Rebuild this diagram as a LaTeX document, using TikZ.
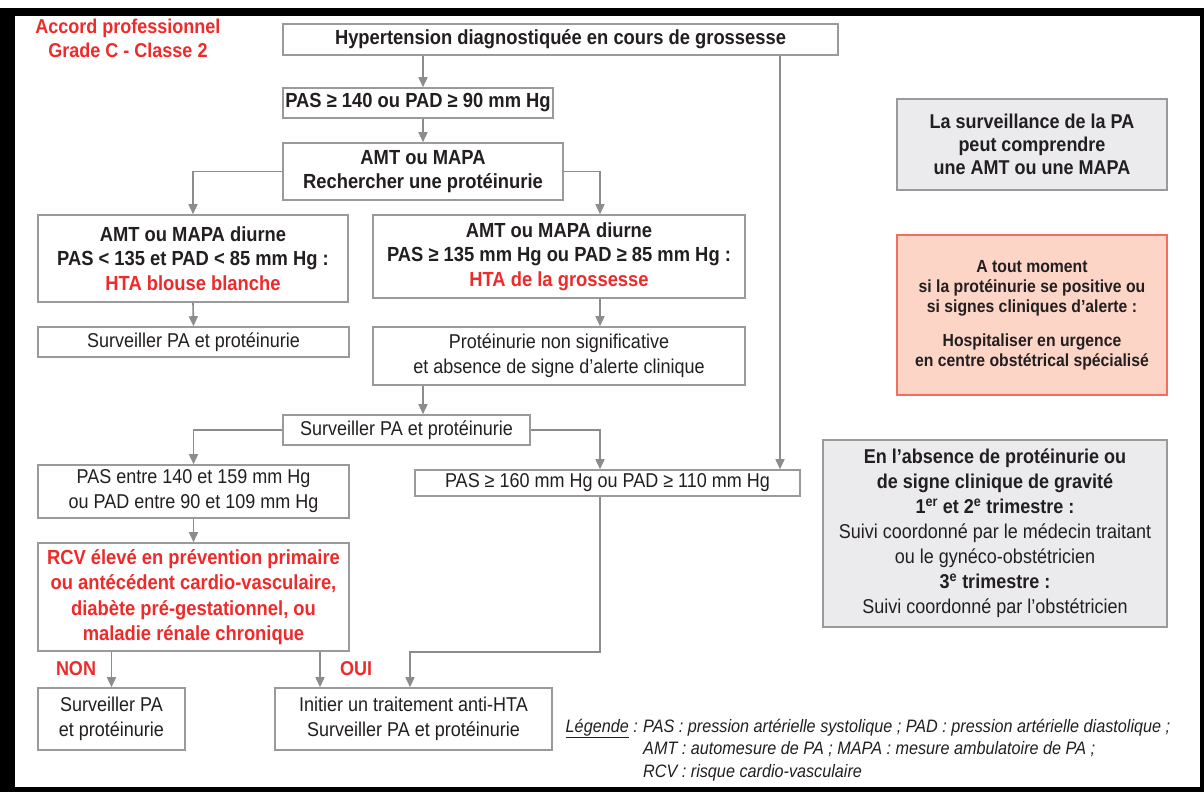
\documentclass[tikz,border=0pt]{standalone}
\usepackage{fontspec}
\setmainfont{Liberation Sans}[FakeStretch=0.9]
\usetikzlibrary{arrows.meta,calc}
\definecolor{txt}{HTML}{231F20}
\definecolor{redt}{HTML}{EE2A2A}
\definecolor{bord}{HTML}{9A9A9A}
\definecolor{lgray}{HTML}{8C8C8C}
\definecolor{grayfill}{HTML}{EBEBEE}
\definecolor{pinkfill}{HTML}{FCD5C6}
\definecolor{pinkbord}{HTML}{EF6F60}
\begin{document}
\begin{tikzpicture}[x=1pt,y=-1pt,
  box/.style={draw=bord,line width=1.6pt,fill=white,inner sep=0pt,align=center,text=txt,font=\fontsize{20}{25}\selectfont},
  bbox/.style={box,font=\fontsize{20.4}{24.5}\selectfont\bfseries},
  gbox/.style={box,fill=grayfill,draw=bord},
  pbox/.style={box,fill=pinkfill,draw=pinkbord},
  arr/.style={draw=lgray,line width=1.6pt,-{Triangle[length=10pt,width=9pt]}},
  redlab/.style={text=redt,font=\fontsize{20}{24}\selectfont\bfseries,inner sep=0pt},
  leg/.style={text=txt,font=\fontsize{18}{22.5}\selectfont\itshape,inner sep=0pt,align=left}
]
\useasboundingbox (0,0) rectangle (1204,792);
\fill[white] (0,0) rectangle (1204,792);
\fill[black] (0,8) rectangle (1204,792);
\fill[white] (15,16) rectangle (1200,787);

% column coordinates
\coordinate (xb) at (423,0);
\coordinate (xc) at (600,0);
\coordinate (xd) at (780,0);
\coordinate (xf) at (320,0);
\coordinate (xg) at (410,0);
\coordinate (kk) at (0,652);

% title
\node[redlab,align=center] (title) at (128,38) {Accord professionnel\\Grade C - Classe 2};

% main flow
\node[bbox,minimum width=555pt,minimum height=31pt] (top) at (560.5,39.5) {Hypertension diagnostiquée en cours de grossesse};
\node[bbox,minimum width=270pt,minimum height=30pt] (b2) at (418,103) {PAS ≥ 140 ou PAD ≥ 90 mm Hg};
\node[bbox,minimum width=280pt,minimum height=57pt] (b3) at (423,171.5) {AMT ou MAPA\\Rechercher une protéinurie};
\node[bbox,minimum width=310pt,minimum height=87pt] (b4) at (193,258.5) {AMT ou MAPA diurne\\PAS < 135 et PAD < 85 mm Hg :\\\textcolor{redt}{HTA blouse blanche}};
\node[bbox,minimum width=372pt,minimum height=83pt] (b5) at (559,256.5) {AMT ou MAPA diurne\\PAS ≥ 135 mm Hg ou PAD ≥ 85 mm Hg :\\\textcolor{redt}{HTA de la grossesse}};
\node[box,minimum width=311pt,minimum height=30pt] (b6) at (193.5,342) {Surveiller PA et protéinurie};
\node[box,minimum width=372pt,minimum height=58pt] (b7) at (559,356) {Protéinurie non significative\\et absence de signe d’alerte clinique};
\node[box,minimum width=247pt,minimum height=30pt] (b8) at (406.5,430) {Surveiller PA et protéinurie};
\node[box,minimum width=311pt,minimum height=53pt] (b9) at (193.5,491.5) {PAS entre 140 et 159 mm Hg\\ou PAD entre 90 et 109 mm Hg};
\node[box,minimum width=385pt,minimum height=26pt] (b10) at (607.5,483) {PAS ≥ 160 mm Hg ou PAD ≥ 110 mm Hg};
\node[bbox,text=redt,minimum width=311pt,minimum height=108pt,font=\fontsize{20.4}{25.5}\selectfont\bfseries] (b11) at (193.5,597) {RCV élevé en prévention primaire\\ou antécédent cardio-vasculaire,\\diabète pré-gestationnel, ou\\maladie rénale chronique};
\node[box,minimum width=147pt,minimum height=62pt] (b12) at (111.5,719) {Surveiller PA\\et protéinurie};
\node[box,minimum width=277pt,minimum height=62pt] (b13) at (413.5,719) {Initier un traitement anti-HTA\\Surveiller PA et protéinurie};

\node[redlab] (non) at (76,669) {NON};
\node[redlab] (oui) at (356,669) {OUI};

% side boxes
\node[gbox,minimum width=270pt,minimum height=91pt,font=\fontsize{20}{23}\selectfont\bfseries] (gA) at (1032,144.5) {La surveillance de la PA\\peut comprendre\\une AMT ou une MAPA};
\node[pbox,minimum width=270pt,minimum height=160pt,font=\fontsize{17.5}{20}\selectfont\bfseries] (gB) at (1032,315) {A tout moment\\si la protéinurie se positive ou\\si signes cliniques d’alerte :\\[14pt]Hospitaliser en urgence\\en centre obstétrical spécialisé};
\node[gbox,minimum width=344pt,minimum height=187pt] (gC) at (995,533.5) {\textbf{En l’absence de protéinurie ou}\\\textbf{de signe clinique de gravité}\\\textbf{1\textsuperscript{er} et 2\textsuperscript{e} trimestre :}\\Suivi coordonné par le médecin traitant\\ou le gynéco-obstétricien\\\textbf{3\textsuperscript{e} trimestre :}\\Suivi coordonné par l’obstétricien};

% legend
\node[leg,anchor=north east] (legt) at (638,719) {\underline{Légende} :};
\node[leg,anchor=north west] (legx) at (643,719) {PAS : pression artérielle systolique ; PAD : pression artérielle diastolique ;\\AMT : automesure de PA ; MAPA : mesure ambulatoire de PA ;\\RCV : risque cardio-vasculaire};

% connectors
\draw[arr] (top.south -| xb) -- (b2.north -| xb);
\draw[arr] (b2.south -| xb) -- (b3.north -| xb);
\draw[arr] (b3.west) -| (b4.north);
\draw[arr] (b3.east) -| (b5.north -| xc);
\draw[arr] (top.south -| xd) -- (b10.north -| xd);
\draw[arr] (b4.south) -- (b6.north);
\draw[arr] (b5.south -| xc) -- (b7.north -| xc);
\draw[arr] (b7.south -| xb) -- (b8.north -| xb);
\draw[arr] (b8.west) -| (b9.north);
\draw[arr] (b8.east) -| (b10.north -| xc);
\draw[arr] (b9.south) -- (b11.north);
\draw[arr] (b11.south -| b12.north) -- (b12.north);
\draw[arr] (b11.south -| xf) -- (b13.north -| xf);
\draw[arr] (b10.south -| xc) -- (xc |- kk) -- (xg |- kk) -- (b13.north -| xg);
\end{tikzpicture}
\end{document}
